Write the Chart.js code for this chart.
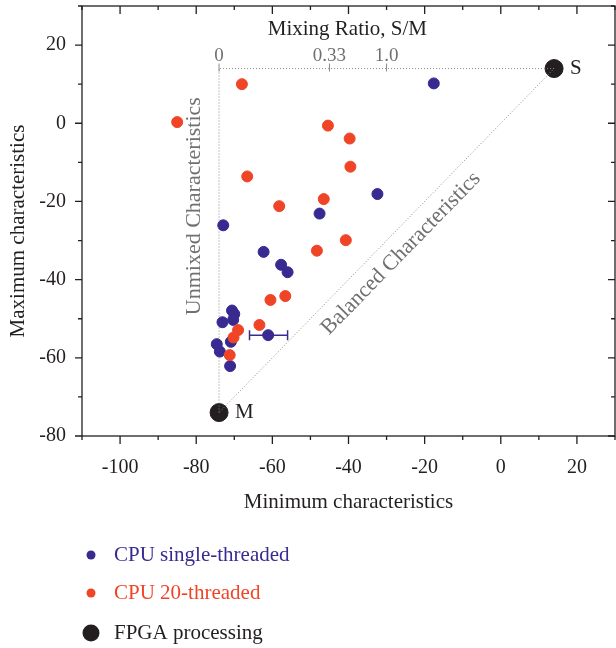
<!DOCTYPE html>
<html>
<head>
<meta charset="utf-8">
<script src="https://cdn.jsdelivr.net/npm/chart.js@4.4.0/dist/chart.umd.min.js"></script>
<style>
  html, body { margin: 0; padding: 0; background: #fff; }
  #wrap { width: 616px; height: 648px; }
</style>
</head>
<body>
<div id="wrap"><canvas id="myChart" width="616" height="648"></canvas></div>
<script>
// CPU single-threaded (min, max)
const singleX = [-17.6, -32.4, -47.6, -72.9, -62.3, -57.7, -56.0, -70.6, -70.0, -70.3, -73.1, -70.9, -74.6, -73.8, -71.1, -61.1];
const singleY = [10.2, -18.1, -23.1, -26.1, -32.9, -36.2, -38.1, -47.9, -48.8, -50.3, -50.9, -55.9, -56.5, -58.4, -62.1, -54.2];
// error bar on one single-threaded point
const errX = [-61.1];
const errY = [-54.2];
const errLo = [-66.0];
const errHi = [-56.0];

// CPU 20-threaded
const multiX = [-68.0, -85.0, -45.4, -39.7, -39.5, -66.6, -46.5, -58.2, -40.7, -48.3, -56.6, -60.5, -63.4, -69.0, -70.2, -71.2];
const multiY = [10.0, 0.3, -0.6, -3.9, -11.1, -13.6, -19.4, -21.2, -29.9, -32.6, -44.2, -45.2, -51.6, -52.9, -54.8, -59.3];

// FPGA processing: S and M
const fpgaNames = ['S', 'M'];
const fpgaX = [14, -74];
const fpgaY = [14, -74];

// mixing ratio scale along the top edge of the triangle
const ratioLabels = ['0', '0.33', '1.0'];
const ratioX = [-74, -45, -30];

const seriesNames = ['CPU single-threaded', 'CPU 20-threaded', 'FPGA processing'];

const BLUE = '#372a90';
const RED = '#ef4426';
const BLACK = '#231f20';
const GREY = '#707070';
const FONT = '"Liberation Serif", "DejaVu Serif", serif';

const zip = (xs, ys) => xs.map((x, i) => ({ x: x, y: ys[i] }));

// triangle M -> corner -> S -> M
const guide = [
    { x: fpgaX[1], y: fpgaY[1] },
    { x: fpgaX[1], y: fpgaY[0] },
    { x: fpgaX[0], y: fpgaY[0] },
    { x: fpgaX[1], y: fpgaY[1] }
];

const noPad = (s) => {
    s.paddingTop = 0;
    s.paddingBottom = 0;
    s.paddingLeft = 0;
    s.paddingRight = 0;
};

const framePlugin = {
    id: 'frame',
    beforeDatasetsDraw(chart) {
        const c = chart.ctx;
        const { left, right, top, bottom } = chart.chartArea;
        const xs = chart.scales.x, ys = chart.scales.y;
        c.save();
        c.strokeStyle = BLACK;
        c.lineWidth = 1.3;
        c.strokeRect(left, top, right - left, bottom - top);
        c.beginPath();
        for (const t of xs.ticks) {
            const p = xs.getPixelForValue(t.value);
            const len = t.value % 20 === 0 ? 8 : 4;
            c.moveTo(p, bottom); c.lineTo(p, bottom + len);
            c.moveTo(p, top); c.lineTo(p, top + len);
        }
        for (const t of ys.ticks) {
            const p = ys.getPixelForValue(t.value);
            const len = t.value % 20 === 0 ? 7 : 4;
            c.moveTo(left, p); c.lineTo(left - len, p);
            c.moveTo(right, p); c.lineTo(right - len, p);
        }
        c.stroke();

        // error bar
        c.strokeStyle = BLUE;
        c.lineWidth = 1.5;
        c.beginPath();
        for (let i = 0; i < errX.length; i++) {
            const y = ys.getPixelForValue(errY[i]);
            const a = xs.getPixelForValue(errLo[i]);
            const b = xs.getPixelForValue(errHi[i]);
            c.moveTo(a, y); c.lineTo(b, y);
            c.moveTo(a, y - 5); c.lineTo(a, y + 5);
            c.moveTo(b, y - 5); c.lineTo(b, y + 5);
        }
        c.stroke();

        // ratio ticks
        c.strokeStyle = '#888';
        c.lineWidth = 1;
        c.beginPath();
        const ry = ys.getPixelForValue(fpgaY[0]);
        for (const v of ratioX) {
            const p = xs.getPixelForValue(v);
            c.moveTo(p, ry - 5); c.lineTo(p, ry + 3);
        }
        c.stroke();
        c.restore();
    },
    afterDraw(chart) {
        const c = chart.ctx;
        const xs = chart.scales.x, ys = chart.scales.y;
        const { left, right } = chart.chartArea;
        c.save();
        c.textBaseline = 'middle';

        // axis titles
        c.fillStyle = BLACK;
        c.font = '21px ' + FONT;
        c.textAlign = 'center';
        c.fillText('Minimum characteristics', (left + right) / 2, 502);
        c.save();
        c.translate(18, 231);
        c.rotate(-Math.PI / 2);
        c.fillText('Maximum characteristics', 0, 0);
        c.restore();

        // mixing ratio title and labels
        c.fillText('Mixing Ratio, S/M', xs.getPixelForValue(-40.3), ys.getPixelForValue(24.1));
        c.fillStyle = GREY;
        c.font = '19px ' + FONT;
        ratioX.forEach((v, i) => {
            c.fillText(ratioLabels[i], xs.getPixelForValue(v), ys.getPixelForValue(17.2));
        });

        // S / M labels
        c.fillStyle = BLACK;
        c.font = '21px ' + FONT;
        c.textAlign = 'left';
        fpgaNames.forEach((n, i) => {
            c.fillText(n, xs.getPixelForValue(fpgaX[i]) + 16, ys.getPixelForValue(fpgaY[i]));
        });

        // region labels
        c.fillStyle = GREY;
        c.font = '22px ' + FONT;
        c.textAlign = 'center';
        c.save();
        c.translate(xs.getPixelForValue(-80.5), ys.getPixelForValue(-21.2));
        c.rotate(-Math.PI / 2);
        c.fillText('Unmixed Characteristics', 0, 0);
        c.restore();
        const mx = xs.getPixelForValue(fpgaX[1]), my = ys.getPixelForValue(fpgaY[1]);
        const sx = xs.getPixelForValue(fpgaX[0]), sy = ys.getPixelForValue(fpgaY[0]);
        c.save();
        c.translate(xs.getPixelForValue(-26.2), ys.getPixelForValue(-33.3));
        c.rotate(Math.atan2(sy - my, sx - mx));
        c.fillText('Balanced Characteristics', 0, 0);
        c.restore();

        // legend
        const legend = [
            { name: seriesNames[0], color: BLUE, r: 4.5, y: 555 },
            { name: seriesNames[1], color: RED, r: 4.5, y: 593 },
            { name: seriesNames[2], color: BLACK, r: 8.5, y: 633 }
        ];
        c.font = '21px ' + FONT;
        c.textAlign = 'left';
        for (const l of legend) {
            c.fillStyle = l.color;
            c.beginPath();
            c.arc(91, l.y, l.r, 0, Math.PI * 2);
            c.fill();
            c.fillText(l.name, 114, l.y);
        }
        c.restore();
    }
};

const ctx = document.getElementById('myChart').getContext('2d');
const myChart = new Chart(ctx, {
    type: 'scatter',
    data: {
        datasets: [{
            label: seriesNames[1],
            data: zip(multiX, multiY),
            backgroundColor: RED,
            borderColor: RED,
            pointRadius: 5.5,
            order: 1
        }, {
            label: seriesNames[0],
            data: zip(singleX, singleY),
            backgroundColor: BLUE,
            borderColor: BLUE,
            pointRadius: 5.5,
            order: 2
        }, {
            label: 'guide',
            type: 'line',
            data: guide,
            borderColor: '#8a8a8a',
            borderWidth: 1,
            borderDash: [1, 2],
            pointRadius: 0,
            fill: false,
            order: 3
        }, {
            label: seriesNames[2],
            data: zip(fpgaX, fpgaY),
            backgroundColor: BLACK,
            borderColor: BLACK,
            pointRadius: 9,
            order: 4
        }]
    },
    options: {
        animation: false,
        responsive: false,
        layout: {
            autoPadding: false,
            padding: { left: 0, right: 1, top: 6, bottom: 0 }
        },
        plugins: {
            legend: false,
            tooltip: { enabled: false }
        },
        scales: {
            x: {
                type: 'linear',
                min: -110,
                max: 30,
                afterFit: (s) => { s.height = 212; noPad(s); },
                grid: { display: false, drawTicks: false },
                border: { display: false },
                ticks: {
                    stepSize: 10,
                    padding: 20,
                    color: BLACK,
                    font: { family: FONT, size: 20 },
                    maxRotation: 0,
                    autoSkip: false,
                    callback: (v) => (v % 20 === 0 ? v : '')
                }
            },
            y: {
                type: 'linear',
                min: -80,
                max: 30,
                afterFit: (s) => { s.width = 82; noPad(s); },
                grid: { display: false, drawTicks: false },
                border: { display: false },
                ticks: {
                    stepSize: 10,
                    padding: 16,
                    color: BLACK,
                    font: { family: FONT, size: 20 },
                    autoSkip: false,
                    callback: (v) => (v % 20 === 0 ? v : '')
                }
            }
        }
    },
    plugins: [framePlugin]
});
</script>
</body>
</html>
